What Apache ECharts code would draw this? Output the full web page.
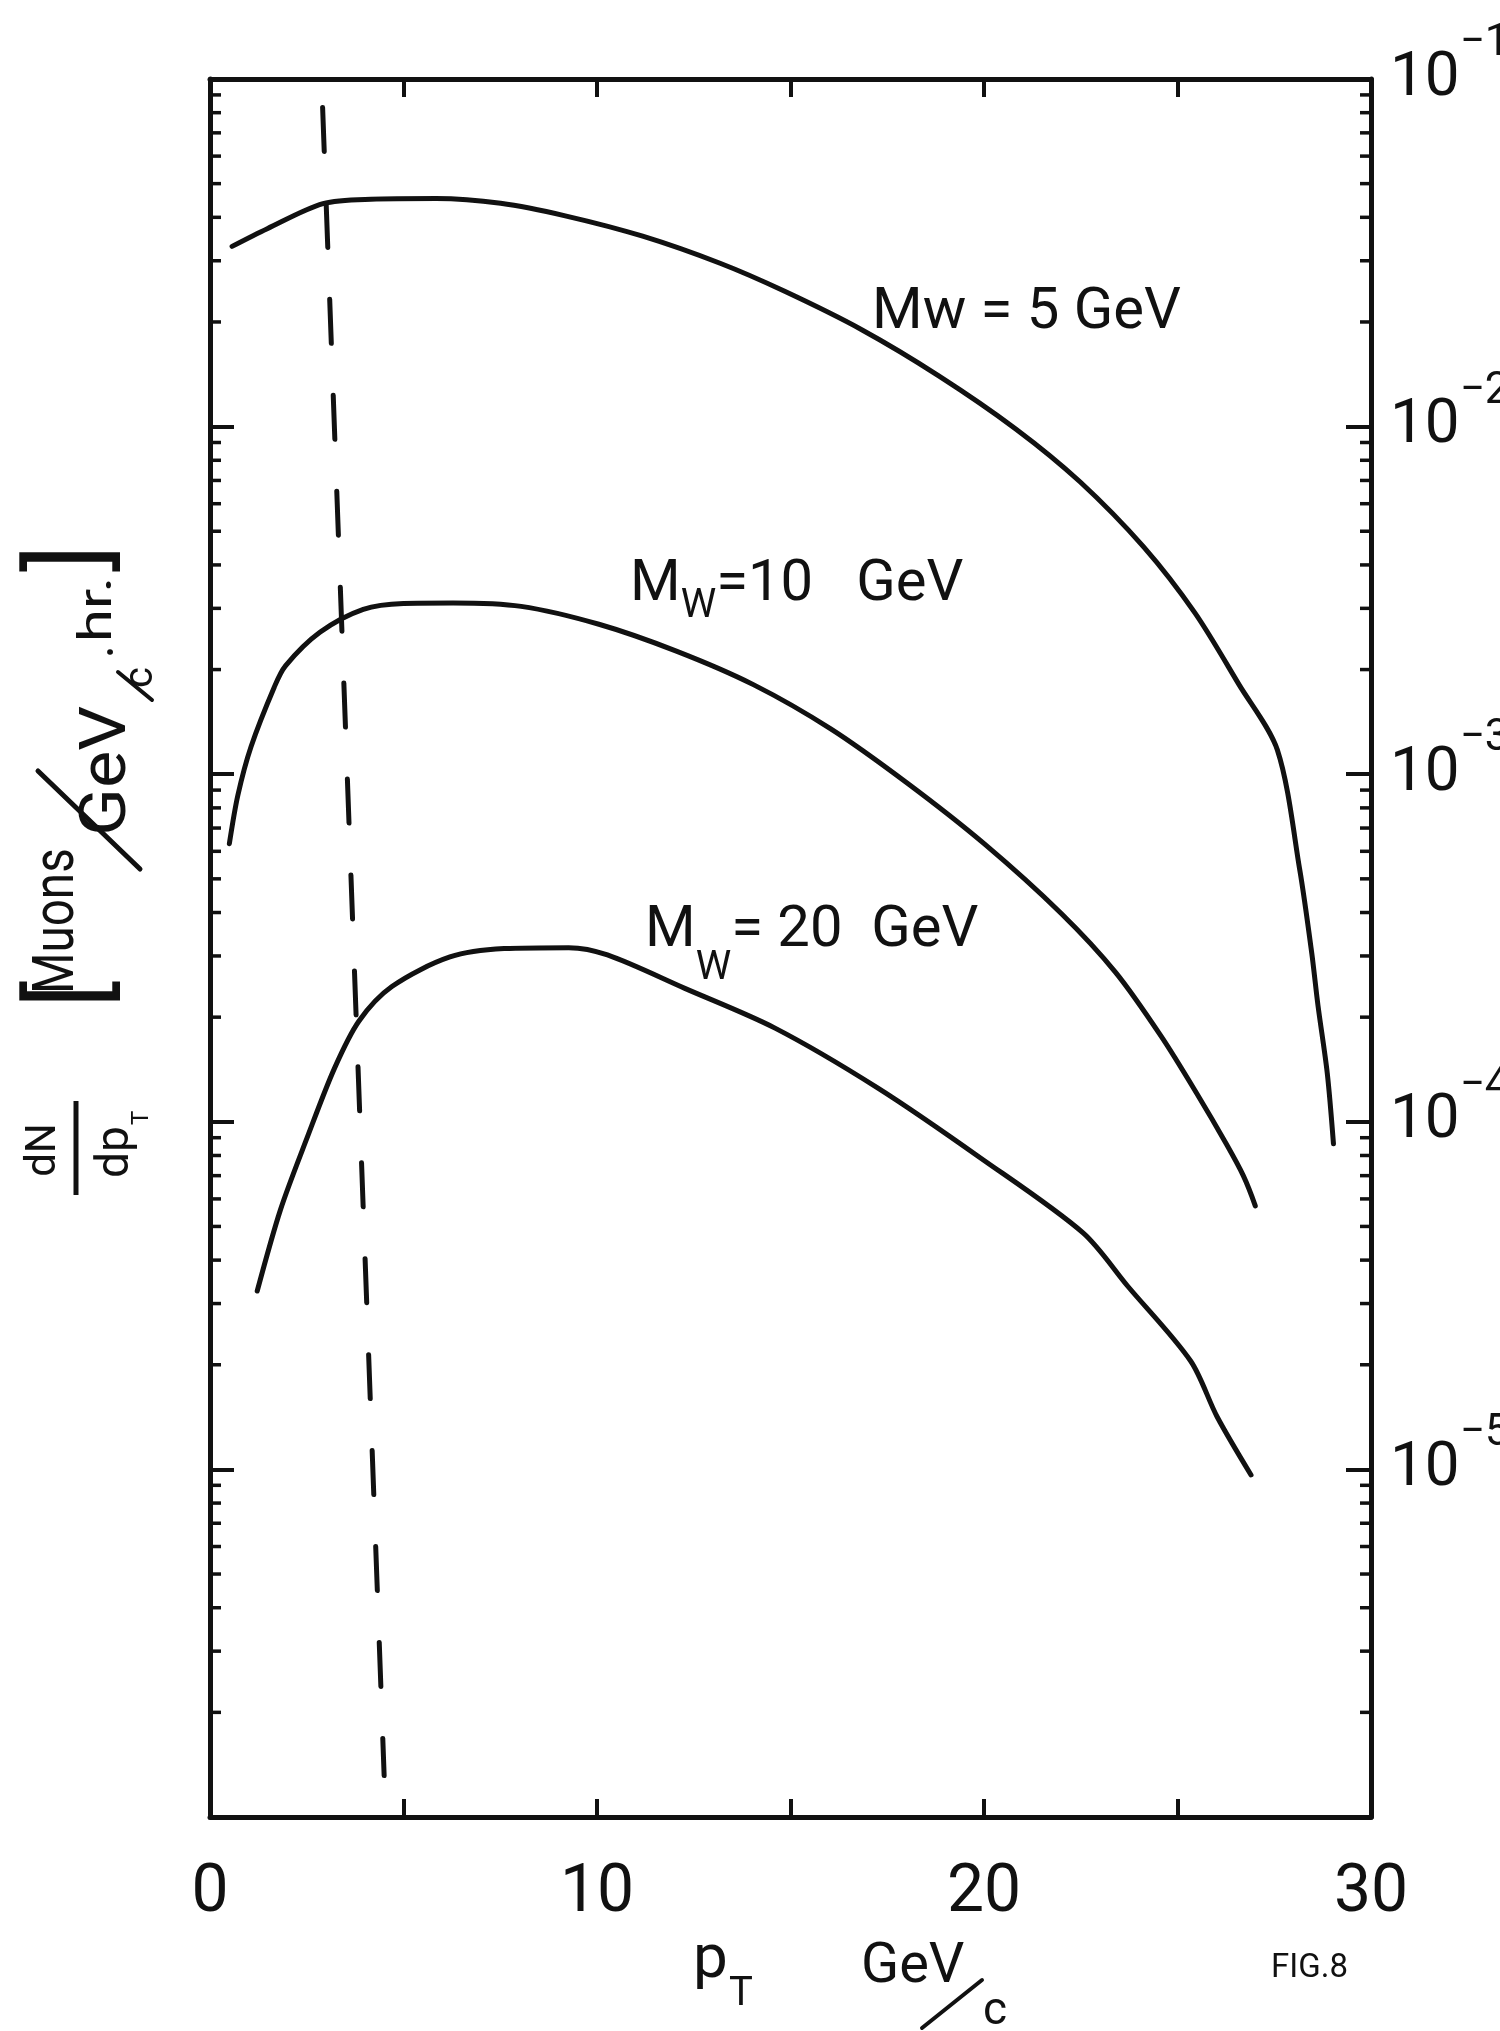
<!DOCTYPE html>
<html>
<head>
<meta charset="utf-8">
<script src="https://cdn.jsdelivr.net/npm/echarts@6/dist/echarts.min.js"></script>
<style>
html, body { margin: 0; padding: 0; background: #ffffff; }
#chart { width: 1500px; height: 2031px; }
</style>
</head>
<body>
<div id="chart"></div>
<script>
// ---------------- data ----------------
// x axis: transverse momentum pT (GeV/c)
const xMin = 0;
const xMax = 30;
const xTickStep = 5;
const xLabelValues = [0, 10, 20, 30];

// y axis: dN/dpT, logarithmic
const yMin = 1e-6;
const yMax = 1e-1;
const yLabelExponents = [-1, -2, -3, -4, -5];
const yDecades = [1e-6, 1e-5, 1e-4, 1e-3, 1e-2];
const yMinorMultipliers = [2, 3, 4, 5, 6, 7, 8, 9];

// Mw = 5 GeV
const mw5Pt  = [0.57, 1.48, 2.92, 4.16, 5.84, 7.51, 9.18, 11.18, 13.18, 14.85, 16.84, 18.83, 20.82, 22.48, 24.13, 25.45, 26.59, 27.58, 28.16, 28.47, 28.63, 28.87, 29.03];
const mw5Val = [3.30e-2, 3.71e-2, 4.38e-2, 4.51e-2, 4.53e-2, 4.39e-2, 4.04e-2, 3.53e-2, 2.95e-2, 2.45e-2, 1.90e-2, 1.40e-2, 9.85e-3, 6.94e-3, 4.50e-3, 2.91e-3, 1.81e-3, 1.175e-3, 5.30e-4, 3.05e-4, 2.16e-4, 1.38e-4, 8.65e-5];

// Mw = 10 GeV
const mw10Pt  = [0.50, 0.72, 1.06, 1.66, 1.95, 2.84, 3.96, 5.00, 6.28, 8.04, 10.05, 12.05, 14.04, 16.04, 18.03, 20.01, 21.99, 23.40, 24.58, 25.51, 26.27, 26.70, 27.01];
const mw10Val = [6.31e-4, 8.7e-4, 1.2e-3, 1.78e-3, 2.05e-3, 2.56e-3, 2.98e-3, 3.10e-3, 3.11e-3, 3.04e-3, 2.70e-3, 2.26e-3, 1.81e-3, 1.35e-3, 9.4e-4, 6.3e-4, 3.98e-4, 2.69e-4, 1.76e-4, 1.2e-4, 8.6e-5, 7.0e-5, 5.73e-5];

// Mw = 20 GeV
const mw20Pt  = [1.22, 1.82, 2.51, 3.21, 3.85, 4.70, 6.20, 7.60, 9.27, 10.27, 12.27, 14.60, 17.26, 19.91, 22.56, 23.71, 25.34, 26.02, 26.90];
const mw20Val = [3.26e-5, 5.58e-5, 9.0e-5, 1.42e-4, 1.95e-4, 2.45e-4, 2.98e-4, 3.15e-4, 3.17e-4, 3.02e-4, 2.42e-4, 1.86e-4, 1.25e-4, 7.87e-5, 4.79e-5, 3.37e-5, 2.05e-5, 1.42e-5, 9.64e-6];

// dashed cut line
const cutPt  = [2.91, 4.50];
const cutVal = [8.28e-2, 1.316e-6];

// ---------------- styling ----------------
const INK = '#111111';
const FONT = 'Roboto, "DejaVu Sans", sans-serif';

function pairs(xs, ys) { return xs.map((x, i) => [x, ys[i]]); }

const minorValues = [];
yDecades.forEach(d => yMinorMultipliers.forEach(m => minorValues.push(d * m)));

const chart = echarts.init(document.getElementById('chart'), null, { renderer: 'canvas' });

const curveStyle = { color: INK, width: 5, cap: 'round', join: 'round' };

function axisLineStyle() { return { show: true, onZero: false, lineStyle: { color: INK, width: 5 } }; }

const option = {
  backgroundColor: '#ffffff',
  animation: false,
  grid: { left: 210, right: 129, top: 79, bottom: 214, containLabel: false, outerBoundsMode: 'none' },
  xAxis: [
    {
      type: 'value', min: xMin, max: xMax, interval: xTickStep, position: 'bottom',
      axisLine: axisLineStyle(),
      axisTick: { show: true, inside: true, length: 18, lineStyle: { color: INK, width: 4 } },
      axisLabel: {
        show: true, margin: 44, color: INK, fontFamily: FONT, fontSize: 66,
        formatter: v => (xLabelValues.indexOf(v) >= 0 ? String(v) : '')
      },
      splitLine: { show: false }
    },
    {
      type: 'value', min: xMin, max: xMax, interval: xTickStep, position: 'top',
      axisLine: axisLineStyle(),
      axisTick: { show: true, inside: true, length: 18, lineStyle: { color: INK, width: 4 } },
      axisLabel: { show: false },
      splitLine: { show: false }
    }
  ],
  yAxis: [
    {
      type: 'log', logBase: 10, min: yMin, max: yMax, position: 'left',
      axisLine: axisLineStyle(),
      axisTick: { show: true, inside: true, length: 24, lineStyle: { color: INK, width: 4 } },
      axisLabel: { show: false },
      splitLine: { show: false }
    },
    {
      type: 'log', logBase: 10, min: yMin, max: yMax, position: 'right',
      axisLine: axisLineStyle(),
      axisTick: { show: true, inside: true, length: 25, lineStyle: { color: INK, width: 4 } },
      axisLabel: {
        show: true, margin: 19, showMinLabel: true, showMaxLabel: true, hideOverlap: false,
        formatter: v => {
          const e = Math.round(Math.log10(v));
          if (yLabelExponents.indexOf(e) < 0) return '';
          return '{b|10}{s|\u2212' + (-e) + '}';
        },
        rich: {
          b: { fontFamily: FONT, fontSize: 62, color: INK },
          s: { fontFamily: FONT, fontSize: 44, color: INK, padding: [0, 0, 70, 0] }
        }
      },
      splitLine: { show: false }
    }
  ],
  series: [
    { type: 'line', name: 'Mw = 5 GeV', data: pairs(mw5Pt, mw5Val), smooth: 0.3, showSymbol: false, lineStyle: curveStyle, z: 5 },
    { type: 'line', name: 'Mw = 10 GeV', data: pairs(mw10Pt, mw10Val), smooth: 0.3, showSymbol: false, lineStyle: curveStyle, z: 5 },
    { type: 'line', name: 'Mw = 20 GeV', data: pairs(mw20Pt, mw20Val), smooth: 0.3, showSymbol: false, lineStyle: curveStyle, z: 5 },
    { type: 'line', name: 'cut', data: pairs(cutPt, cutVal), showSymbol: false,
      lineStyle: { color: INK, width: 5, type: [44, 52], cap: 'round' }, z: 4 },
    {
      type: 'custom', name: 'minor ticks', silent: true, z: 6,
      data: minorValues.map(v => [xMin, v]),
      renderItem: (params, api) => {
        const v = api.value(1);
        const pL = api.coord([xMin, v]);
        const pR = api.coord([xMax, v]);
        const len = 11;
        return {
          type: 'group',
          children: [
            { type: 'line', shape: { x1: pL[0], y1: pL[1], x2: pL[0] + len, y2: pL[1] }, style: { stroke: INK, lineWidth: 3.5 } },
            { type: 'line', shape: { x1: pR[0] - len, y1: pR[1], x2: pR[0], y2: pR[1] }, style: { stroke: INK, lineWidth: 3.5 } }
          ]
        };
      }
    }
  ],
  graphic: [
    // curve labels
    { type: 'text', x: 872, y: 313, style: { text: 'Mw = 5 GeV', font: '58px ' + FONT, fill: INK, verticalAlign: 'middle', align: 'left' } },
    { type: 'text', x: 630, y: 585, style: {
        text: '{m|M}{s|W}{m|=10   GeV}', verticalAlign: 'middle', align: 'left',
        rich: { m: { fontFamily: FONT, fontSize: 58, fill: INK }, s: { fontFamily: FONT, fontSize: 40, fill: INK, padding: [44, 0, 0, 0] } } } },
    { type: 'text', x: 645, y: 931, style: {
        text: '{m|M}{s|W}{m|= 20  GeV}', verticalAlign: 'middle', align: 'left',
        rich: { m: { fontFamily: FONT, fontSize: 58, fill: INK }, s: { fontFamily: FONT, fontSize: 40, fill: INK, padding: [76, 0, 0, 0] } } } },

    // x axis title
    { type: 'text', x: 693, y: 1961, style: { text: 'p', font: '62px ' + FONT, fill: INK, verticalAlign: 'middle' } },
    { type: 'text', x: 729, y: 1995, style: { text: 'T', font: '40px ' + FONT, fill: INK, verticalAlign: 'middle' } },
    { type: 'text', x: 861, y: 1968, style: { text: 'GeV', font: '56px ' + FONT, fill: INK, verticalAlign: 'middle' } },
    { type: 'line', shape: { x1: 922, y1: 2028, x2: 982, y2: 1980 }, style: { stroke: INK, lineWidth: 4, lineCap: 'round' } },
    { type: 'text', x: 983, y: 2012, style: { text: 'c', font: '46px ' + FONT, fill: INK, verticalAlign: 'middle' } },
    { type: 'text', x: 1271, y: 1969, style: { text: 'FIG.8', font: '33px ' + FONT, fill: INK, verticalAlign: 'middle' } },

    // y axis title (rotated, reads bottom to top)
    {
      type: 'group', x: 80, y: 880, rotation: Math.PI / 2,
      children: [
        { type: 'text', x: -270, y: -36, style: { text: 'dN', font: '42px ' + FONT, fill: INK, align: 'center', verticalAlign: 'middle' } },
        { type: 'line', shape: { x1: -315, y1: -4, x2: -221, y2: -4 }, style: { stroke: INK, lineWidth: 5 } },
        { type: 'text', x: -298, y: 36, style: { text: 'dp', font: '46px ' + FONT, fill: INK, align: 'left', verticalAlign: 'middle' } },
        { type: 'text', x: -245, y: 62, style: { text: 'T', font: '24px ' + FONT, fill: INK, align: 'left', verticalAlign: 'middle' } },
        { type: 'text', x: -128, y: -2, style: { text: '[', font: '104px ' + FONT, fill: INK, align: 'left', verticalAlign: 'middle' } },
        { type: 'text', x: -114, y: -22, scaleX: 0.82, style: { text: 'Muons', font: '58px ' + FONT, fill: INK, align: 'left', verticalAlign: 'middle' } },
        { type: 'line', shape: { x1: 11, y1: 60, x2: 109, y2: -42 }, style: { stroke: INK, lineWidth: 5, lineCap: 'round' } },
        { type: 'text', x: 44, y: 29, scaleX: 1.1, style: { text: 'GeV', font: '64px ' + FONT, fill: INK, align: 'left', verticalAlign: 'middle' } },
        { type: 'line', shape: { x1: 180, y1: 72, x2: 208, y2: 38 }, style: { stroke: INK, lineWidth: 4, lineCap: 'round' } },
        { type: 'text', x: 192, y: 62, style: { text: 'c', font: '40px ' + FONT, fill: INK, align: 'left', verticalAlign: 'middle' } },
        { type: 'text', x: 228, y: 33, style: { text: '\u2022', font: '28px ' + FONT, fill: INK, align: 'center', verticalAlign: 'middle' } },
        { type: 'text', x: 238, y: 19, scaleX: 1.3, style: { text: 'hr.', font: '46px ' + FONT, fill: INK, align: 'left', verticalAlign: 'middle' } },
        { type: 'text', x: 308, y: -2, style: { text: ']', font: '104px ' + FONT, fill: INK, align: 'left', verticalAlign: 'middle' } }
      ]
    }
  ]
};

chart.setOption(option);
</script>
</body>
</html>
